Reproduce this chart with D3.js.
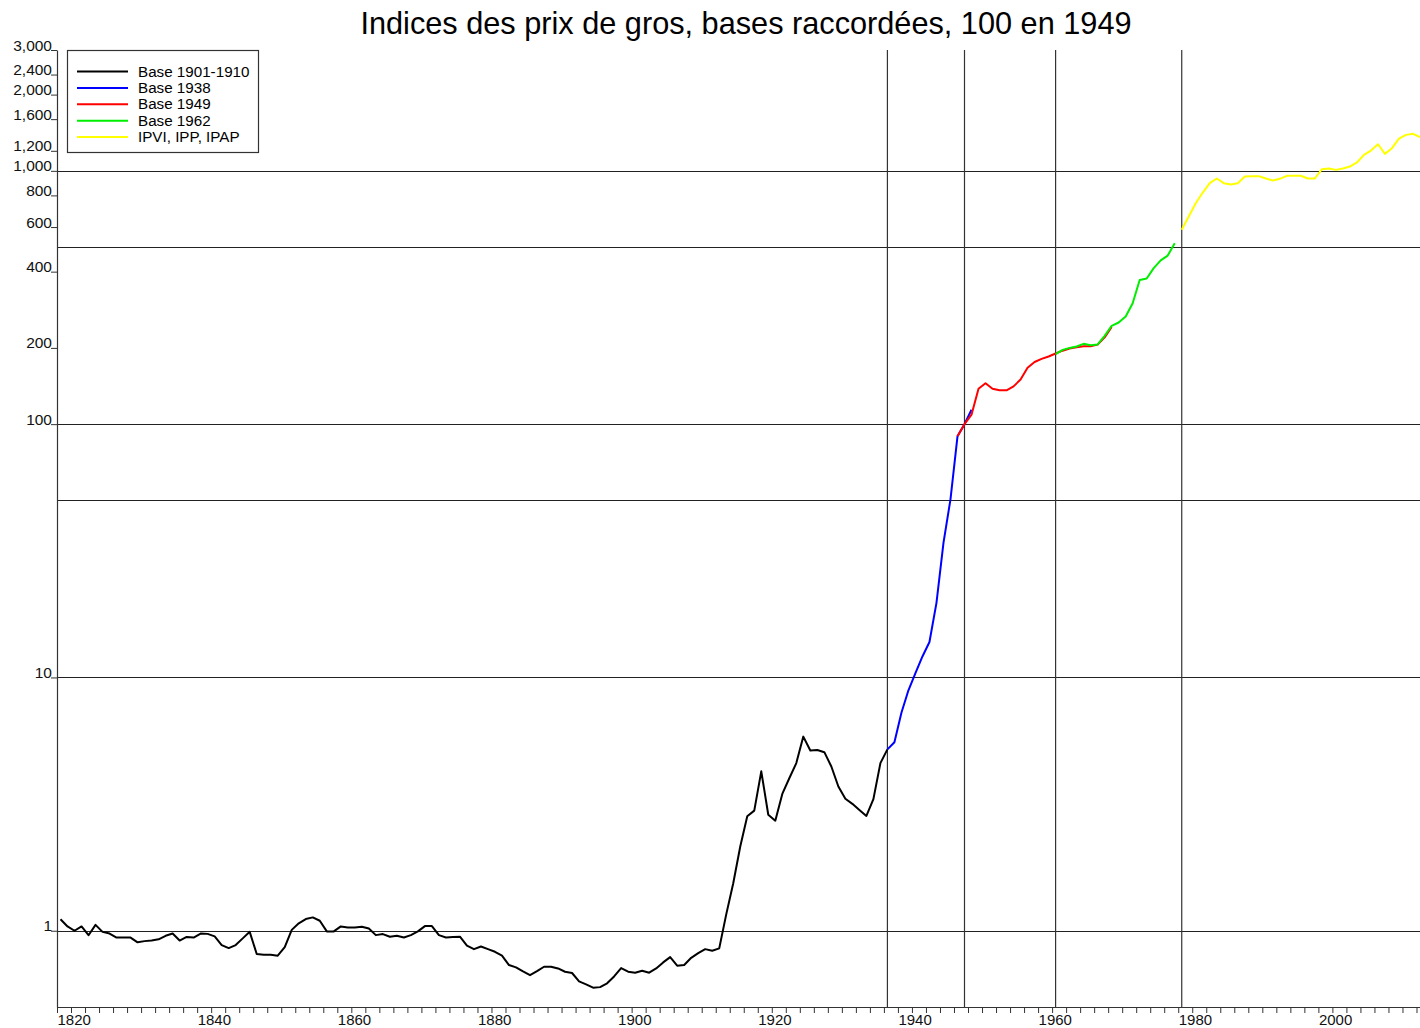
<!DOCTYPE html>
<html>
<head>
<meta charset="utf-8">
<script src="https://cdn.jsdelivr.net/npm/d3@7"></script>
<style>
  html, body { margin: 0; padding: 0; background: #fff; }
  svg { display: block; font-family: "Liberation Sans", Arial, sans-serif; }
</style>
</head>
<body>
<svg id="chart" width="1420" height="1028"></svg>
<script>
// ---------- DATA ----------
const titleText = "Indices des prix de gros, bases raccordées, 100 en 1949";

const blackStart = 1820; // Base 1901-1910
const blackValues = [
  1.11, 1.04, 1.0, 1.04, 0.96, 1.055, 0.99, 0.975, 0.94, 0.94,
  0.94, 0.90, 0.91, 0.915, 0.925, 0.955, 0.975, 0.915, 0.945, 0.94,
  0.975, 0.972, 0.95, 0.878, 0.854, 0.878, 0.933, 0.99, 0.809, 0.804,
  0.804, 0.797, 0.862, 1.008, 1.07, 1.112, 1.129, 1.095, 0.994, 0.994,
  1.04, 1.03, 1.03, 1.037, 1.021, 0.961, 0.97, 0.947, 0.956, 0.941,
  0.961, 0.994, 1.043, 1.043, 0.961, 0.941, 0.944, 0.947, 0.873, 0.846,
  0.867, 0.846, 0.826, 0.797, 0.732, 0.717, 0.691, 0.668, 0.693, 0.721,
  0.721, 0.71, 0.689, 0.681, 0.631, 0.614, 0.596, 0.599, 0.62, 0.66,
  0.712, 0.689, 0.683, 0.695, 0.683, 0.71, 0.75, 0.787, 0.728, 0.732,
  0.782, 0.816, 0.846, 0.834, 0.852, 1.16, 1.54, 2.15, 2.83, 2.98,
  4.26, 2.87, 2.72, 3.47, 4.0, 4.59, 5.84, 5.15, 5.17, 5.07,
  4.45, 3.71, 3.32, 3.17, 3.0, 2.84, 3.31, 4.59, 5.2
];

const blueStart = 1938; // Base 1938
const blueValues = [5.2, 5.55, 7.25, 8.9, 10.4, 12.1, 13.8, 19.7, 34, 50.5, 89.5, 100, 114];

const redStart = 1948; // Base 1949
const redValues = [89.5, 100, 109, 138, 145, 138, 136, 136, 141, 150, 167, 176, 181, 185, 190,
  195, 199, 201, 203, 203, 206, 220, 242];

const greenStart = 1962; // Base 1962
const greenValues = [189, 196.5, 200, 202.5, 207.5, 205, 206.5, 223, 244.5, 252, 266, 300,
  371, 376, 413, 443, 463, 518];

const yellowStart = 1980; // IPVI, IPP, IPAP
const yellowValues = [585, 660, 745, 821, 894, 933, 894, 883, 894, 950,
  953, 953, 933, 916, 930, 956, 956, 956, 933, 933,
  1015, 1021, 1009, 1021, 1040, 1079, 1157, 1203, 1274, 1167,
  1229, 1341, 1387, 1400, 1358];

const seriesNames = ["Base 1901-1910", "Base 1938", "Base 1949", "Base 1962", "IPVI, IPP, IPAP"];
const seriesColors = ["#000000", "#0000ff", "#ff0000", "#00ee00", "#ffff00"];

const yTickValues = [1, 10, 100, 200, 400, 600, 800, 1000, 1200, 1600, 2000, 2400, 3000];
const hGridValues = [1, 10, 50, 100, 500, 1000];
const baseChangeYears = [1938, 1949, 1962, 1980];
const xLabelYears = [1820, 1840, 1860, 1880, 1900, 1920, 1940, 1960, 1980, 2000];

// ---------- LAYOUT ----------
const plotLeft = 57, plotRight = 1420, plotTop = 50, plotBottom = 1007;

const svg = d3.select("#chart");

const x = d3.scaleLinear().domain([1820, 2014.5]).range([plotLeft, plotRight]);
const y = d3.scaleLog().domain([0.5, 3000]).range([plotBottom, plotTop]);
const xp = yr => x(yr + 0.5); // annual values plotted at mid-year

// Title
svg.append("text")
  .attr("x", 746).attr("y", 34)
  .attr("text-anchor", "middle")
  .attr("font-size", 30.7)
  .attr("fill", "#000")
  .text(titleText);

// Horizontal grid
svg.append("g").selectAll("line").data(hGridValues).join("line")
  .attr("x1", plotLeft).attr("x2", plotRight)
  .attr("y1", d => Math.round(y(d)) + 0.5).attr("y2", d => Math.round(y(d)) + 0.5)
  .attr("stroke", "#222").attr("stroke-width", 1.1);

// Vertical lines at base changes
svg.append("g").selectAll("line").data(baseChangeYears).join("line")
  .attr("x1", d => xp(d)).attr("x2", d => xp(d))
  .attr("y1", plotTop).attr("y2", plotBottom)
  .attr("stroke", "#333").attr("stroke-width", 1.2);

// Y axis
const yAxis = d3.axisLeft(y).tickValues(yTickValues)
  .tickFormat(d3.format(",")).tickSize(6).tickSizeOuter(0);
const gy = svg.append("g").attr("transform", `translate(${plotLeft},0)`).call(yAxis);
gy.select(".domain").attr("stroke", "#333").attr("stroke-width", 1.2);
gy.selectAll(".tick line").attr("stroke", "#333");
gy.selectAll(".tick text")
  .attr("x", -5).attr("dy", 0)
  .attr("font-size", 15.5).attr("font-family", "Liberation Sans, Arial, sans-serif")
  .attr("fill", "#111");

// X axis
const xTickYears = d3.range(1820, 2015, 2);
const xAxis = d3.axisBottom(x).tickValues(xTickYears)
  .tickFormat(d => xLabelYears.includes(d) ? String(d) : "")
  .tickSize(6).tickSizeOuter(0);
const gx = svg.append("g").attr("transform", `translate(0,${plotBottom})`).call(xAxis);
gx.select(".domain").attr("stroke", "#333").attr("stroke-width", 1.2);
gx.selectAll(".tick line").attr("stroke", "#333");
gx.selectAll(".tick text")
  .attr("text-anchor", "start").attr("x", 0).attr("y", 18).attr("dy", 0)
  .attr("font-size", 15).attr("font-family", "Liberation Sans, Arial, sans-serif")
  .attr("fill", "#111");

// Series lines
const line = d3.line().x(d => xp(d.year)).y(d => y(d.value));
const toPoints = (start, vals) => vals.map((v, i) => ({ year: start + i, value: v }));
const allSeries = [
  toPoints(blackStart, blackValues),
  toPoints(blueStart, blueValues),
  toPoints(redStart, redValues),
  toPoints(greenStart, greenValues),
  toPoints(yellowStart, yellowValues)
];
svg.append("g").selectAll("path").data(allSeries).join("path")
  .attr("d", line)
  .attr("fill", "none")
  .attr("stroke", (d, i) => seriesColors[i])
  .attr("stroke-width", 2)
  .attr("stroke-linejoin", "round");

// Legend
const lg = svg.append("g");
lg.append("rect")
  .attr("x", 67.5).attr("y", 50.5).attr("width", 191).attr("height", 102)
  .attr("fill", "#fff").attr("stroke", "#333").attr("stroke-width", 1.2);
const items = lg.selectAll("g.item").data(seriesNames).join("g")
  .attr("class", "item")
  .attr("transform", (d, i) => `translate(0,${71.5 + i * 16.4})`);
items.append("line")
  .attr("x1", 77).attr("x2", 128).attr("y1", 0).attr("y2", 0)
  .attr("stroke", (d, i) => seriesColors[i]).attr("stroke-width", 2);
items.append("text")
  .attr("x", 138).attr("y", 5)
  .attr("font-size", 15.2).attr("fill", "#000")
  .text(d => d);
</script>
</body>
</html>
